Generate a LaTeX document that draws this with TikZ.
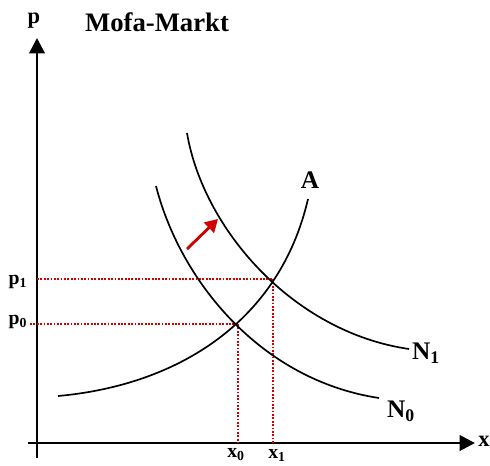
\documentclass[tikz,border=0pt]{standalone}
\usepackage{fontspec}
\setmainfont{Liberation Serif}
\usetikzlibrary{arrows.meta, calc}
\definecolor{marketred}{RGB}{210,0,0}
\tikzset{
	axisline/.style={line width=2pt, -{Triangle[length=11pt, width=11pt]}}
}
\tikzset{
	guideline/.style={marketred, line width=1.2pt, dash pattern=on 1.3pt off 1.1pt}
}
\tikzset{
	biglabel/.style={font=\fontsize{16}{18}\selectfont\bfseries},
	curvelabel/.style={font=\fontsize{18}{20}\selectfont\bfseries},
	ticklabel/.style={font=\fontsize{14}{16}\selectfont\bfseries}
}

\begin{document}
\begin{tikzpicture}[x=0.025cm, y=-0.025cm, line width=1.2pt]
      \useasboundingbox (0,0) rectangle (490,465);

      % axes
      \draw[axisline] (37,458) -- (37,38) coordinate (ptip);
      \draw[axisline] (28,443) -- (475,443) coordinate (xtip);
      \coordinate (origin) at (37,443);
      \node[biglabel] (plabel) at (34,21) {p};
      \node[biglabel] (xlabel) at (484,441) {x};
      \node[font=\fontsize{19}{22}\selectfont\bfseries] (title) at (157,22) {Mofa-Markt};

      % equilibrium points
      \coordinate (E0) at (238,324);
      \coordinate (E1) at (273,279);

      % dotted guide lines to the axes
      \draw[guideline] (30,324) -- (E0);
      \draw[guideline] (E1 -| origin) -- (E1);
      \draw[guideline] (E0) -- (E0 |- origin);
      \draw[guideline] (E1) -- (E1 |- origin);

      % supply curve A
      \draw (58,396) .. controls (180,385) and (280,320) .. (308,199) coordinate (Aend);
      % demand curves N0 and N1
      \draw (156,186) .. controls (180,280) and (260,380) .. (379,398) coordinate (N0end);
      \draw (187,133) .. controls (203,228) and (292,332) .. (409,349) coordinate (N1end);

      \node[curvelabel] (Alabel) at (310,180) {A};
      \node[curvelabel] (N0label) at (401,411) {N\textsubscript{0}};
      \node[curvelabel] (N1label) at (426,353) {N\textsubscript{1}};

      % axis values
      \node[ticklabel] (p1label) at (18,282) {p\textsubscript{1}};
      \node[ticklabel] (p0label) at (18,322) {p\textsubscript{0}};
      \node[ticklabel] (x0label) at (236,455) {x\textsubscript{0}};
      \node[ticklabel] (x1label) at (277,455) {x\textsubscript{1}};

      % shift of demand
      \coordinate (shiftA) at (187,249);
      \coordinate (shiftB) at (218,219);
      \draw[marketred, line width=2pt, -{Triangle[length=9pt, width=10pt]}] (shiftA) -- (shiftB);
    \end{tikzpicture}
\end{document}
